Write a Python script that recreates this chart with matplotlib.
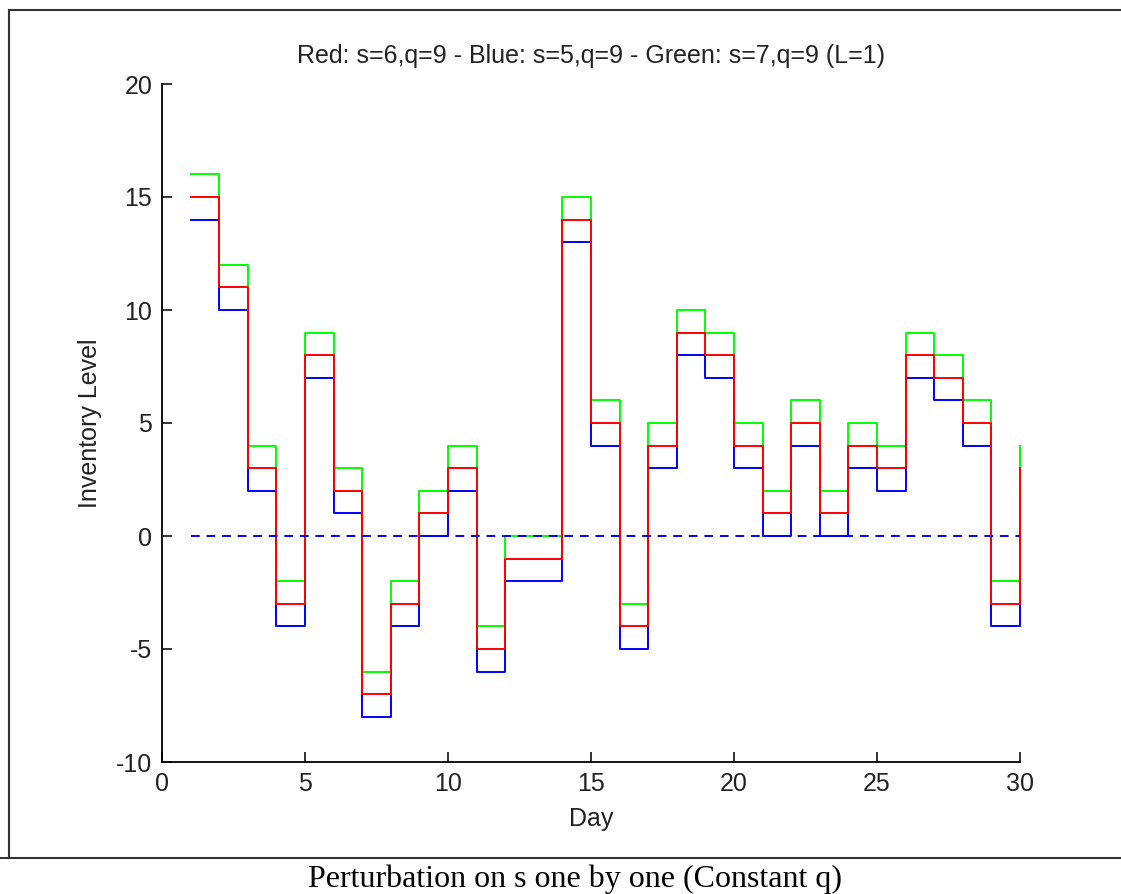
import matplotlib
matplotlib.use("Agg")
import matplotlib.pyplot as plt
from matplotlib.lines import Line2D

days = list(range(1, 31))
red = [15, 11, 3, -3, 8, 2, -7, -3, 1, 3, -5, -1, -1, 14, 5, -4, 4, 9, 8, 4, 1, 5, 1, 4, 3, 8, 7, 5, -3, 3]
blue = [14, 10, 2, -4, 7, 1, -8, -4, 0, 2, -6, -2, -2, 13, 4, -5, 3, 8, 7, 3, 0, 4, 0, 3, 2, 7, 6, 4, -4, 2]
green = [16, 12, 4, -2, 9, 3, -6, -2, 2, 4, -4, 0, 0, 15, 6, -3, 5, 10, 9, 5, 2, 6, 2, 5, 4, 9, 8, 6, -2, 4]
zero_x = [1, 30]
zero_y = [0, 0]
xticks = [0, 5, 10, 15, 20, 25, 30]
yticks = [-10, -5, 0, 5, 10, 15, 20]
title = "Red: s=6,q=9 - Blue: s=5,q=9 - Green: s=7,q=9 (L=1)"
caption = "Perturbation on s one by one (Constant q)"

W, H = 1121, 894
fig = plt.figure(figsize=(W / 100, H / 100), dpi=100)
plt.rcParams['font.family'] = ['Liberation Sans', 'DejaVu Sans']
plt.rcParams['axes.unicode_minus'] = False

ax = fig.add_axes([162 / W, (H - 762) / H, 858 / W, 678 / H])
lw = 1.4
ax.step(days, green, where='post', color=(0, 1, 0), lw=lw, clip_on=False)
ax.step(days, blue, where='post', color=(0, 0, 1), lw=lw, clip_on=False)
ax.step(days, red, where='post', color=(1, 0, 0), lw=lw, clip_on=False)
ax.plot(zero_x, zero_y, color=(0, 0, 1), lw=1.4, linestyle=(0, (4.5, 3.5)))

ax.set_xlim(0, 30)
ax.set_ylim(-10, 20)
ax.set_xticks(xticks)
ax.set_yticks(yticks)
ax.spines['top'].set_visible(False)
ax.spines['right'].set_visible(False)
for s in ('left', 'bottom'):
    ax.spines[s].set_linewidth(1.3)
ax.tick_params(direction='in', length=7, width=1.3, labelsize=18, pad=7, colors='#222222')
ax.set_title(title, fontsize=18, pad=15, color='#222222')
ax.set_xlabel("Day", fontsize=18, labelpad=8, color='#222222')
ax.set_ylabel("Inventory Level", fontsize=18, labelpad=10, color='#222222')

# outer frame lines
fig.add_artist(Line2D([9 / W, 1.0], [1 - 10 / H, 1 - 10 / H], color='#333333', lw=1.5, transform=fig.transFigure))
fig.add_artist(Line2D([9 / W, 9 / W], [1 - 10 / H, 1 - 858 / H], color='#333333', lw=1.5, transform=fig.transFigure))
fig.add_artist(Line2D([0, 1.0], [1 - 858 / H, 1 - 858 / H], color='#333333', lw=1.5, transform=fig.transFigure))

fig.text(575 / W, 1 - 879 / H, caption, family=['Liberation Serif', 'DejaVu Serif'],
         fontsize=23, ha='center', va='center', color='black')

fig.savefig("out.png", dpi=100)
